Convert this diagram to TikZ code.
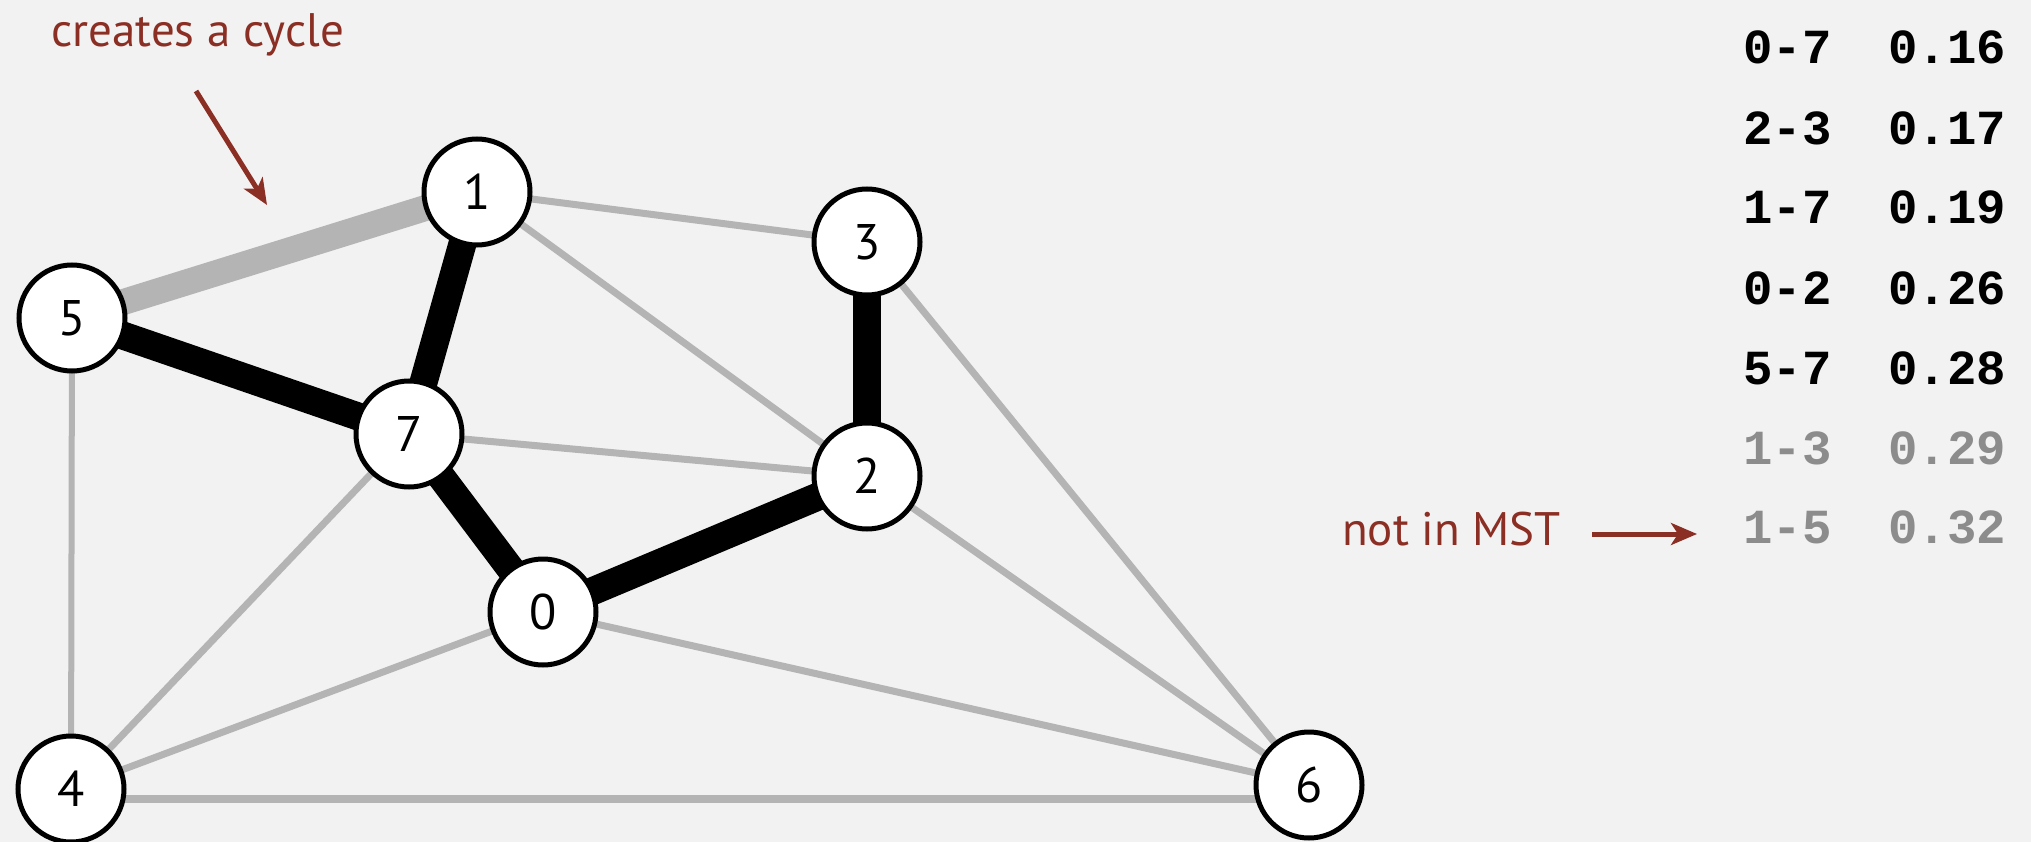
\documentclass[tikz,border=0pt]{standalone}
\usepackage{fontspec}
\setmainfont{PT Sans}
\newfontfamily\monofont{Liberation Mono}[BoldFont={Liberation Mono Bold}]
\usetikzlibrary{arrows.meta,backgrounds}
\definecolor{bg}{HTML}{F2F2F2}
\definecolor{edgegray}{HTML}{B4B4B4}
\definecolor{darkred}{HTML}{8B2E24}
\definecolor{txtgray}{HTML}{8C8C8C}
\begin{document}
\begin{tikzpicture}[x=1pt,y=-1pt,
  vtx/.style={circle,draw=black,fill=white,line width=5pt,minimum size=106pt,inner sep=0pt,font=\fontsize{50}{52}\selectfont},
  mst/.style={draw=black,line width=28pt},
  cyc/.style={draw=edgegray,line width=26pt},
  thin/.style={draw=edgegray,line width=7pt},
  note/.style={text=darkred,inner sep=0pt,anchor=base west,font=\fontsize{47}{50}\selectfont},
  redarrow/.style={draw=darkred,line width=5pt,-{Stealth[length=26pt,width=22pt,inset=7pt]}},
  tbl/.style={inner sep=0pt,anchor=base west,font=\monofont\bfseries\fontsize{49}{50}\selectfont},
  tblon/.style={tbl,text=black},
  tbloff/.style={tbl,text=txtgray}
]
\useasboundingbox (0,0) rectangle (2031,842);
% vertices
\node[vtx] (v1) at (477,192) {1};
\node[vtx] (v3) at (867,242) {3};
\node[vtx] (v5) at (72,318) {5};
\node[vtx] (v7) at (409,434) {7};
\node[vtx] (v2) at (867,476) {2};
\node[vtx] (v0) at (543,612) {0};
\node[vtx] (v4) at (71,789) {4};
\node[vtx] (v6) at (1309,785) {6};
\begin{pgfonlayer}{background}
\fill[bg] (0,0) rectangle (2031,842);
% non-tree edges
\draw[thin] (v1.center) -- (v3.center);
\draw[thin] (v1.center) -- (v2.center);
\draw[thin] (v3.center) -- (v6.center);
\draw[thin] (v7.center) -- (v2.center);
\draw[thin] (v2.center) -- (v6.center);
\draw[thin] (v0.center) -- (v6.center);
\draw[thin] (v0.center) -- (v4.center);
\draw[thin] (v7.center) -- (v4.center);
\draw[thin,line width=6pt] (v5.center) -- (v4.center);
\draw[thin,line width=8pt] ([yshift=-10pt]v4.center) -- ([yshift=-14pt]v6.center);
% edge that creates a cycle
\draw[cyc] (v1.center) -- (v5.center);
% MST edges
\draw[mst] (v0.center) -- (v7.center);
\draw[mst] (v2.center) -- (v3.center);
\draw[mst] (v1.center) -- (v7.center);
\draw[mst] (v0.center) -- (v2.center);
\draw[mst] (v5.center) -- (v7.center);
\end{pgfonlayer}
% annotations
\node[note] (cyc) at (51,47) {creates a cycle};
\coordinate (cycA) at (196,91);
\coordinate (cycB) at (267,205);
\draw[redarrow] (cycA) -- (cycB);
\node[note] (nim) at (1342,545) {not in MST};
\coordinate (nimA) at (1592,534);
\coordinate (nimB) at (1697,534);
\draw[redarrow] (nimA) -- (nimB);
% edge list
\node[tblon] (e1) at (1743,64) {0-7};  \node[tblon] (w1) at (1888,64) {0.16};
\node[tblon] (e2) at (1743,145) {2-3}; \node[tblon] (w2) at (1888,145) {0.17};
\node[tblon] (e3) at (1743,224) {1-7}; \node[tblon] (w3) at (1888,224) {0.19};
\node[tblon] (e4) at (1743,304) {0-2}; \node[tblon] (w4) at (1888,304) {0.26};
\node[tblon] (e5) at (1743,384) {5-7}; \node[tblon] (w5) at (1888,384) {0.28};
\node[tbloff] (e6) at (1743,464) {1-3}; \node[tbloff] (w6) at (1888,464) {0.29};
\node[tbloff] (e7) at (1743,543) {1-5}; \node[tbloff] (w7) at (1888,543) {0.32};
\end{tikzpicture}
\end{document}
